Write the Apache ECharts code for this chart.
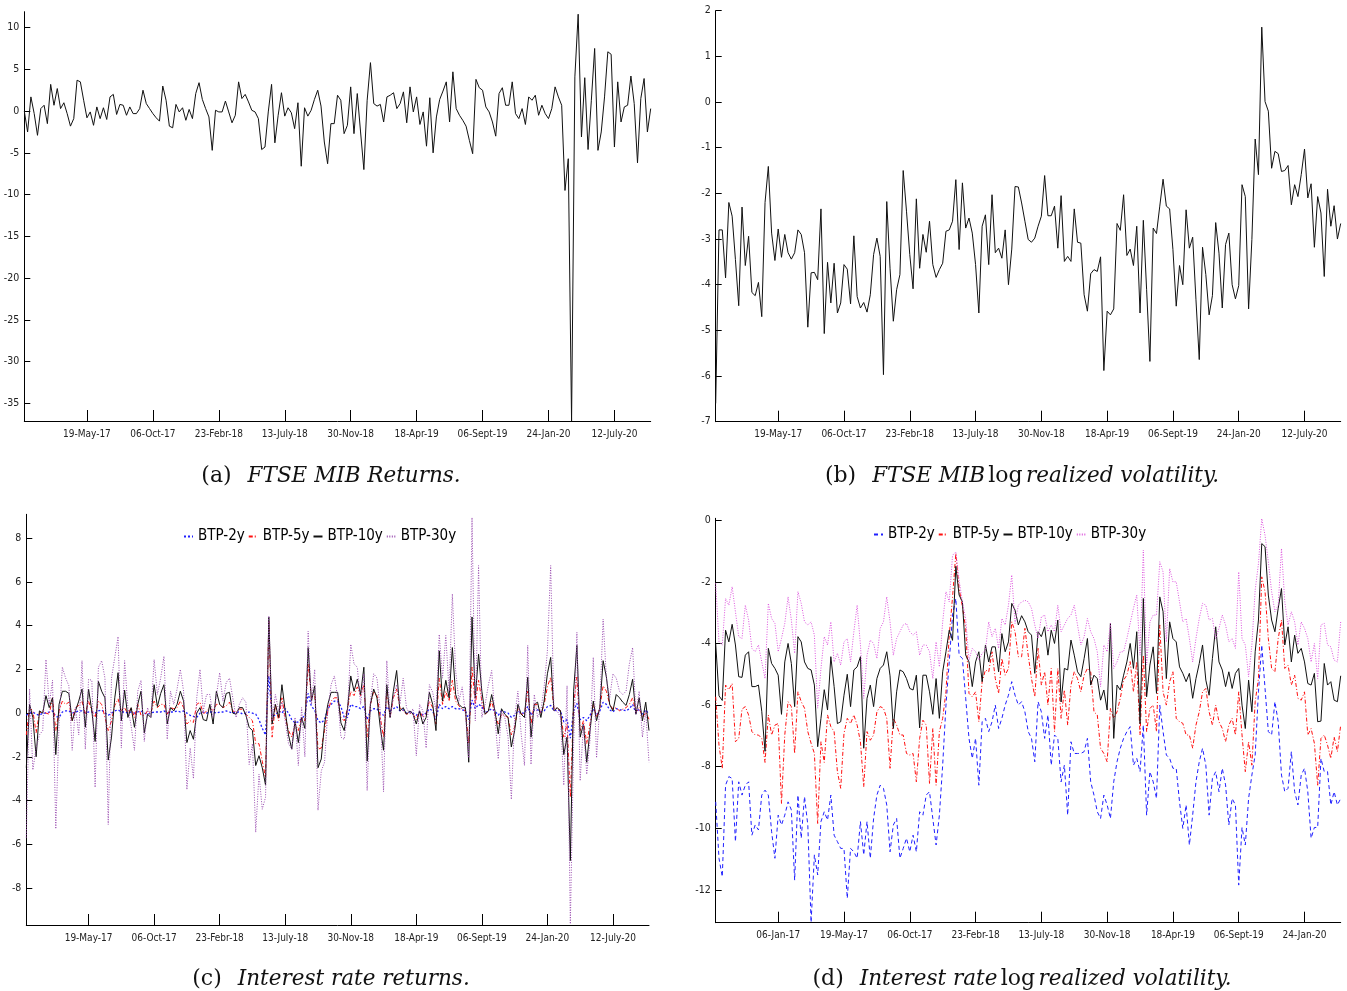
<!DOCTYPE html>
<html>
<head>
<meta charset="utf-8">
<script src="https://cdn.jsdelivr.net/npm/echarts@6/dist/echarts.min.js"></script>
<style>
html,body{margin:0;padding:0;background:#fff;}
#chart{width:1347px;height:991px;}
</style>
</head>
<body>
<div id="chart"></div>
<script>
// ---------- tick labels ----------
const tickIdx = [19, 39, 59, 79, 99, 119, 139, 159, 179];
const tickLabelsABC = ['19-May-17','06-Oct-17','23-Febr-18','13-July-18','30-Nov-18','18-Apr-19','06-Sept-19','24-Jan-20','12-July-20'];
const tickLabelsD = ['06-Jan-17','19-May-17','06-Oct-17','23-Febr-18','13-July-18','30-Nov-18','18-Apr-19','06-Sept-19','24-Jan-20'];
const yTicksA = [-35,-30,-25,-20,-15,-10,-5,0,5,10];
const yTicksB = [-7,-6,-5,-4,-3,-2,-1,0,1,2];
const yTicksC = [-8,-6,-4,-2,0,2,4,6,8];
const yTicksD = [-12,-10,-8,-6,-4,-2,0];

// ---------- (a) FTSE MIB returns ----------
const ftseRet = [
0.0,-2.5,1.7,-0.3,-2.9,0.3,0.7,-1.5,3.2,0.7,
2.7,0.3,1.0,-0.3,-1.8,-0.9,3.7,3.5,1.3,-0.8,
-0.1,-1.7,0.5,-0.9,0.4,-1.0,1.7,2.0,-0.4,0.8,
0.7,-0.5,0.5,-0.3,-0.3,0.3,2.5,0.9,0.3,-0.3,
-0.8,-1.2,3.0,1.3,-1.8,-2.0,0.8,-0.1,0.4,-1.1,
0.2,-0.9,2.1,3.4,1.4,0.3,-0.7,-4.7,0.1,-0.1,
-0.1,1.2,-0.1,-1.4,-0.5,3.5,1.5,2.0,1.1,0.1,
-0.1,-0.9,-4.6,-4.3,-0.1,3.2,-3.8,-0.5,2.2,-0.6,
0.4,-0.2,-2.1,1.0,-6.6,0.4,-0.6,0.1,1.4,2.5,
0.6,-3.7,-6.3,-1.5,-1.5,1.9,
1.3,-2.7,-1.7,2.9,-2.7,2.1,-2.5,-7.0,1.3,5.8,
0.9,0.6,0.8,-1.3,1.7,1.9,2.2,0.3,0.9,2.3,
-1.4,2.9,-0.1,1.7,-1.6,-0.1,-4.2,1.6,-5.0,-0.7,
1.4,2.4,3.5,-1.3,4.7,0.3,-0.5,-1.1,-1.8,-3.5,
-5.1,3.8,2.8,2.5,0.5,-0.1,-1.3,-3.0,2.1,2.8,
0.7,0.7,3.5,-0.3,-0.9,0.3,-1.6,1.7,1.3,1.9,
-0.5,0.7,-0.3,-0.9,0.3,2.9,1.7,0.7,-9.5,-5.7,
-37.1,4.1,11.6,-3.1,4.0,-4.6,1.3,7.5,-4.7,-2.5,
1.7,7.1,6.8,-4.3,3.5,-1.3,0.5,0.7,4.2,0.9,
-6.2,1.5,3.9,-2.5,0.3
];

// ---------- (b) FTSE MIB log realized volatility ----------
const ftseVol = [
-6.6,-2.8,-2.8,-3.85,-2.2,-2.5,-3.45,-4.46,-2.3,-3.58,
-2.94,-4.17,-4.24,-3.95,-4.7,-2.2,-1.41,-2.87,-3.47,-2.78,
-3.4,-2.9,-3.3,-3.44,-3.3,-2.8,-2.9,-3.3,-4.93,-3.74,
-3.73,-3.89,-2.34,-5.07,-3.51,-4.4,-3.53,-4.62,-4.4,-3.56,
-3.66,-4.42,-2.93,-4.26,-4.51,-4.39,-4.6,-4.22,-3.34,-2.98,
-3.38,-5.97,-2.18,-3.64,-4.8,-4.11,-3.78,-1.5,-2.39,-3.34,
-4.09,-2.12,-3.64,-2.9,-3.29,-2.61,-3.56,-3.84,-3.67,-3.53,
-2.83,-2.8,-2.61,-1.7,-3.23,-1.77,-2.76,-2.54,-2.87,-3.56,
-4.62,-2.72,-2.47,-3.56,-2.03,-3.3,-3.2,-3.42,-2.8,-4.0,
-3.22,-1.85,
-1.86,-2.21,-2.61,-3.01,-3.07,-2.98,-2.72,-2.5,-1.61,-2.49,
-2.49,-2.28,-3.2,-2.05,-3.49,-3.38,-3.49,-2.34,-3.07,-3.09,
-4.22,-4.58,-3.76,-3.67,-3.71,-3.39,-5.88,-4.58,-4.66,-4.53,
-2.66,-2.81,-2.03,-3.36,-3.22,-3.58,-2.72,-4.62,-2.59,-4.11,
-5.68,-2.76,-2.88,-2.28,-1.69,-2.28,-2.34,-3.23,-4.47,-3.58,
-4.0,-2.36,-3.2,-2.96,-4.33,-5.64,-3.18,-3.78,-4.66,-4.24,
-2.64,-3.31,-4.51,-3.12,-2.87,-4.0,-4.31,-4.02,-1.81,-2.07,
-4.53,-3.01,-0.81,-1.59,1.64,0.01,-0.2,-1.45,-1.08,-1.13,
-1.52,-1.5,-1.39,-2.25,-1.81,-2.07,-1.59,-1.03,-2.1,-1.79,
-3.18,-2.07,-2.43,-3.82,-1.91,-2.72,-2.27,-3.0,-2.66
];

// ---------- (c) interest rate returns ----------
const btp2Ret = [
-0.1,0.0,0.05,-0.05,-0.1,0.0,0.0,0.05,0.1,-0.15,
-0.2,0.05,0.1,0.1,0.0,0.05,0.1,0.1,0.0,0.05,
0.05,0.0,0.1,0.15,0.0,-0.1,0.0,0.1,0.15,0.05,
0.05,0.0,0.05,0.0,0.05,0.1,0.0,-0.05,0.0,0.05,
0.05,0.05,0.1,0.0,0.05,0.05,0.1,0.05,0.1,0.0,
-0.1,-0.15,-0.2,0.0,0.05,0.0,0.05,0.05,0.0,0.05,
0.05,0.1,0.05,0.0,0.05,0.05,-0.05,0.0,0.05,0.0,
-0.05,-0.3,-0.7,-1.0,1.7,-0.15,-0.1,0.1,0.0,0.2,
0.0,-0.3,-0.45,-0.4,-0.25,-0.1,0.9,0.3,0.15,-0.35,
-0.45,-0.3,0.2,0.4,0.55,
0.55,
0.3,-0.2,-0.2,0.4,0.3,0.3,0.2,0.3,-0.3,0.1,
0.2,0.2,0.0,-0.1,0.3,0.1,0.2,0.3,0.1,0.15,
0.0,0.05,0.0,-0.1,0.05,-0.1,0.0,0.2,0.1,-0.3,
0.4,0.2,0.3,0.2,0.3,0.2,0.2,0.15,0.1,-0.3,
0.6,0.2,0.4,0.3,0.0,0.1,0.2,0.1,-0.1,0.1,
0.05,0.0,-0.2,-0.1,0.1,0.0,0.0,0.3,-0.1,0.15,
0.15,0.05,0.1,0.3,0.35,0.1,0.15,0.1,-0.4,-0.3,
-1.15,0.1,0.45,-0.3,-0.2,-0.35,-0.1,0.2,-0.1,0.1,
0.5,0.4,0.15,0.05,0.2,0.15,0.15,0.1,0.2,0.4,
0.0,0.2,-0.05,0.15,-0.05
];
const btp5Ret = [
-1.0,0.25,0.1,-0.9,0.0,0.1,0.0,-0.05,0.7,-0.8,
0.1,0.55,0.4,0.5,-0.35,0.25,0.35,0.55,-0.05,0.55,
0.1,-0.2,0.55,0.4,-0.2,-0.8,-0.35,0.35,0.65,0.1,
0.25,-0.05,0.25,-0.2,0.4,-0.1,-0.1,0.1,0.0,0.55,
0.25,0.4,0.4,-0.05,0.25,0.2,0.25,0.55,0.25,-0.5,
-0.35,-0.43,0.4,0.5,-0.05,0.1,0.25,0.1,0.4,0.4,
0.25,0.33,0.5,0.1,0.03,0.18,0.18,-0.05,-0.2,-0.35,
-1.4,-1.4,-2.2,-2.95,4.2,-1.1,0.4,-0.35,0.7,-0.2,
-0.8,-1.1,-0.5,-0.8,-0.2,-0.35,2.25,0.7,0.87,-1.65,
-1.6,-0.8,0.1,0.55,0.7,
0.7,
-0.2,-0.35,0.2,1.0,0.8,1.2,0.8,1.3,-1.1,0.4,
1.0,0.8,-0.2,-1.1,1.0,-0.2,0.7,1.1,0.25,0.1,
-0.05,0.0,-0.05,-0.3,0.1,-0.2,-0.05,0.55,0.25,-0.5,
1.6,0.4,1.0,0.55,1.5,0.55,0.33,0.18,0.1,-1.4,
2.1,0.4,1.5,0.55,-0.05,0.1,0.55,-0.05,-0.5,-0.05,
-0.12,-0.2,-1.0,-0.65,0.25,-0.05,-0.05,1.0,-0.5,0.4,
0.4,-0.05,0.4,1.2,1.65,0.18,0.25,0.1,-1.1,-0.5,
-3.85,0.4,1.65,-0.8,-0.35,-1.4,-0.5,0.4,-0.2,0.25,
1.25,1.0,0.4,0.18,0.25,0.1,0.18,0.25,0.4,0.7,
0.03,0.25,-0.2,0.03,-0.28
];
const btp10Ret = [
-2.5,0.4,-0.2,-2.0,0.1,0.0,0.8,0.25,0.7,-1.9,
0.4,1.0,1.0,0.9,-0.35,0.1,0.55,1.1,-0.65,1.1,
0.1,-1.3,1.45,1.0,0.7,-2.15,-1.1,0.7,1.85,-0.35,
1.05,-0.2,0.25,-0.65,0.4,1.0,-0.9,-0.05,-0.2,1.3,
0.3,0.9,1.3,-0.5,0.25,0.1,0.4,1.0,0.55,-1.35,
-0.8,-1.2,0.0,0.25,-0.3,-0.35,0.4,-0.5,1.0,0.4,
0.25,0.9,0.95,0.0,-0.05,0.25,0.25,-0.1,-0.65,-0.8,
-2.4,-1.95,-2.5,-3.3,4.4,-0.5,0.4,-0.2,1.3,0.1,
-1.0,-1.65,-0.35,-1.35,-0.2,-0.7,3.0,0.55,1.25,-2.5,
-2.1,-0.5,0.4,0.95,0.95,
0.95,
-0.45,-0.8,0.2,1.7,1.0,1.55,0.85,2.1,-2.2,0.4,
1.1,0.7,-0.65,-1.7,1.3,-0.2,1.0,1.95,0.1,0.25,
-0.05,0.1,-0.05,-0.5,0.1,-0.5,-0.2,0.95,0.4,-0.8,
2.85,0.55,1.5,0.7,3.0,0.85,0.4,0.25,0.25,-2.25,
4.4,0.7,2.7,1.0,-0.05,0.1,0.85,0.1,-0.95,0.2,
-0.05,-0.2,-1.55,-0.8,0.4,-0.05,-0.2,1.65,-1.1,0.4,
0.5,-0.2,0.55,1.8,2.55,0.1,0.25,0.1,-1.9,-1.1,
-6.75,1.0,3.1,-1.1,-0.5,-2.25,-0.8,0.55,-0.35,0.25,
2.4,1.65,0.4,0.1,0.85,0.7,0.5,0.35,0.85,1.55,
-0.05,0.7,-0.35,0.5,-0.8
];
const btp30Ret = [
-5.7,1.1,-2.6,-1.6,-1.0,-0.8,2.45,0.4,1.5,-5.3,
-0.45,2.1,1.6,1.25,-1.7,0.25,-1.0,2.4,-1.65,1.55,
1.5,-3.4,2.1,2.4,1.6,-5.1,1.6,2.55,3.5,-1.6,
2.4,0.25,-0.6,-1.7,1.0,1.5,-1.3,0.25,-0.2,2.45,
0.85,1.6,2.6,-1.2,1.0,0.4,1.1,2.0,1.0,-3.5,
-1.6,-3.0,0.7,2.0,0.1,0.85,0.85,-0.2,0.8,1.85,
0.55,1.4,1.6,0.7,-0.2,0.4,0.7,0.5,-2.35,-1.4,
-5.45,-2.8,-4.4,-3.85,4.45,-0.35,0.85,0.1,0.5,-0.35,
-1.4,-1.65,-0.2,-2.4,0.25,-2.0,3.75,0.4,2.0,-4.45,
-2.65,-2.25,0.1,1.3,1.7,
0.7,-1.1,-1.2,0.0,3.15,2.25,2.1,0.4,1.8,-3.55,
0.55,1.8,1.6,0.1,-3.6,2.4,-0.2,0.7,1.3,0.4,
1.6,0.25,-0.05,0.2,-1.95,0.4,0.1,-1.6,1.3,0.95,
0.1,3.6,1.6,3.55,1.0,5.45,1.95,0.55,1.2,-0.05,
-2.05,8.95,-0.35,6.75,-0.2,0.4,1.3,1.95,-0.2,-2.1,
0.1,-0.2,-1.1,-3.95,-0.2,1.0,-0.95,-2.4,3.1,-2.35,
0.85,-0.2,0.1,1.2,2.85,6.75,0.1,0.1,-0.2,-3.3,
1.25,-9.65,-1.4,3.7,-3.1,-0.5,-2.8,-1.25,2.55,-2.05,
0.4,4.3,1.6,0.7,1.8,1.6,1.0,0.85,1.0,2.25,
3.0,-0.05,1.0,-1.1,0.1,-2.25
];

// ---------- (d) interest rate log realized volatility ----------
const btp2Vol = [
-9.14,-10.97,-11.57,-8.6,-8.32,-8.38,-10.43,-8.49,-8.92,-8.6,
-8.49,-10.22,-9.89,-10.05,-8.92,-8.76,-8.92,-10.11,-10.97,-9.57,
-9.89,-9.57,-9.14,-9.4,-11.68,-8.92,-10.32,-8.97,-9.89,-13.05,
-10.86,-11.51,-9.78,-9.46,-9.73,-8.92,-10.22,-10.43,-10.65,-10.65,
-12.27,-10.65,-10.76,-10.97,-9.78,-10.86,-9.78,-10.97,-9.68,-8.92,
-8.6,-8.7,-9.24,-10.76,-9.89,-9.68,-10.97,-10.65,-10.32,-10.76,
-10.22,-10.76,-9.46,-9.57,-8.92,-8.81,-9.68,-10.54,-9.57,-7.95,
-6.0,-4.59,-3.08,-2.54,-4.38,-4.49,-5.78,-7.08,-7.73,-7.08,
-8.6,-6.54,-6.43,-6.86,-6.54,-6.0,-6.76,-6.43,-6.0,-5.68,
-5.24,-5.68,-6.0,
-5.89,-6.22,-6.86,-7.08,-7.84,-5.89,-6.22,-7.08,-6.32,-7.95,
-6.97,-7.08,-8.49,-7.95,-9.57,-7.19,-7.57,-7.57,-7.57,-7.51,
-7.08,-8.49,-8.92,-9.46,-9.68,-8.92,-9.24,-9.68,-8.49,-7.84,
-7.4,-7.08,-6.86,-6.7,-7.95,-7.73,-8.16,-6.65,-9.57,-8.16,
-8.49,-9.03,-6.0,-6.86,-7.62,-7.73,-8.05,-8.05,-9.14,-10.0,
-9.24,-10.54,-9.57,-8.49,-7.84,-7.4,-7.95,-9.57,-8.38,-8.16,
-8.81,-8.05,-8.59,-9.89,-9.03,-9.24,-11.84,-9.97,-10.54,-9.03,
-8.27,-7.62,-5.57,-4.05,-5.46,-6.86,-6.97,-5.89,-6.54,-8.27,
-8.81,-8.7,-7.51,-8.81,-9.24,-8.27,-8.05,-8.81,-10.32,-9.97,
-9.97,-7.73,-8.16,-8.16,-9.24,-8.81,-9.24,-9.03
];
const btp5Vol = [
-5.73,-7.3,-8.05,-5.35,-5.5,-5.3,-7.19,-7.08,-6.13,-6.05,
-6.32,-6.86,-6.97,-6.97,-7.08,-7.86,-6.32,-6.97,-6.65,-6.6,
-9.19,-6.97,-5.89,-6.05,-7.57,-5.57,-5.89,-6.1,-6.86,-7.24,
-7.57,-9.84,-7.19,-7.86,-6.32,-6.7,-6.86,-8.16,-8.7,-6.92,
-6.43,-6.6,-6.32,-6.65,-7.19,-8.65,-6.86,-7.14,-6.97,-6.22,
-6.05,-6.1,-6.43,-8.05,-6.43,-6.65,-6.97,-6.97,-7.57,-7.62,
-7.57,-8.49,-7.08,-6.49,-6.65,-8.54,-6.76,-8.6,-6.86,-6.43,
-5.57,-3.73,-2.5,-1.08,-2.22,-2.81,-3.51,-5.62,-5.73,-5.57,
-6.54,-5.24,-4.86,-4.92,-4.27,-5.14,-5.62,-4.49,-5.03,-4.81,
-3.3,-3.62,-4.43,
-4.43,-3.51,-4.38,-5.14,-5.73,-4.16,-5.35,-4.92,-6.0,-4.81,
-6.86,-4.81,-6.43,-5.51,-6.65,-5.35,-4.92,-5.14,-5.57,-5.03,
-4.81,-4.92,-6.22,-6.32,-7.4,-7.57,-7.84,-6.11,-6.43,-6.22,
-5.78,-5.19,-5.03,-4.59,-5.57,-4.59,-6.97,-4.38,-6.86,-6.11,
-6.0,-6.86,-3.4,-5.57,-6.0,-5.24,-4.92,-6.43,-6.54,-6.59,
-6.97,-6.97,-7.4,-6.65,-6.22,-5.57,-5.46,-6.22,-6.65,-6.0,
-6.54,-6.76,-7.19,-6.65,-6.43,-6.97,-5.57,-6.97,-8.16,-7.19,
-7.95,-5.89,-5.14,-1.84,-2.32,-3.84,-4.81,-4.92,-3.84,-3.24,
-4.81,-4.7,-5.35,-5.03,-5.78,-5.84,-5.57,-6.97,-6.76,-7.24,
-8.6,-7.08,-6.97,-7.3,-7.73,-7.03,-7.51,-6.65
];
const btp10Vol = [
-4.0,-5.7,-5.85,-3.57,-3.95,-3.38,-4.05,-5.08,-5.1,-4.38,
-4.27,-5.4,-5.4,-5.35,-6.2,-7.5,-4.16,-4.65,-4.81,-5.03,
-6.3,-4.6,-4.0,-4.65,-6.05,-3.78,-3.95,-4.6,-4.81,-4.86,
-5.35,-7.35,-6.43,-5.5,-6.16,-4.43,-5.4,-6.6,-6.54,-5.68,
-5.0,-6.05,-4.86,-4.76,-4.43,-7.4,-5.78,-5.35,-6.05,-5.14,
-4.81,-4.7,-4.27,-5.05,-6.76,-5.57,-4.86,-4.92,-5.14,-5.46,
-5.51,-5.03,-6.74,-5.03,-5.03,-5.57,-6.3,-5.14,-6.43,-4.92,
-4.27,-3.57,-3.9,-1.5,-2.43,-2.65,-4.38,-4.6,-5.4,-4.6,
-4.27,-5.24,-4.05,-4.6,-4.11,-4.11,-4.92,-3.68,-4.27,-3.95,
-2.7,-2.92,-3.4,
-3.1,
-3.3,-3.62,-3.73,-4.97,-3.62,-3.78,-3.46,-4.38,-3.57,-4.0,
-3.24,-5.9,-4.81,-4.86,-3.89,-4.38,-4.92,-5.08,-4.49,-3.84,
-5.35,-5.03,-5.14,-5.84,-5.51,-6.16,-3.35,-7.08,-5.35,-5.51,
-5.03,-4.6,-4.0,-4.81,-3.62,-6.6,-2.54,-5.73,-4.7,-4.11,
-5.62,-2.49,-2.97,-5.14,-3.3,-3.84,-3.95,-4.76,-4.97,-5.24,
-4.97,-5.78,-5.14,-4.65,-4.05,-5.19,-5.68,-4.49,-3.46,-4.6,
-4.86,-5.4,-4.92,-5.46,-4.97,-4.81,-6.0,-6.76,-5.19,-6.22,
-4.27,-3.24,-0.76,-0.86,-2.43,-3.24,-3.62,-2.86,-2.22,-4.05,
-3.46,-4.6,-3.73,-4.32,-4.16,-4.6,-5.3,-5.35,-4.97,-6.54,
-6.52,-4.65,-5.35,-5.24,-5.84,-5.89,-5.05
];
const btp30Vol = [
-2.05,-3.95,-4.05,-2.54,-2.76,-2.16,-2.97,-3.78,-3.84,-2.76,
-3.24,-4.16,-4.27,-4.05,-4.6,-5.14,-2.7,-3.19,-3.35,-4.27,
-3.84,-3.35,-2.49,-3.24,-4.32,-2.32,-2.7,-3.3,-3.4,-3.3,
-3.73,-6.1,-4.81,-3.78,-4.05,-3.3,-4.6,-4.32,-4.7,-3.95,
-3.84,-4.6,-3.62,-2.76,-4.05,-5.78,-4.38,-3.89,-4.0,-4.49,
-3.51,-3.3,-2.49,-3.3,-4.38,-3.84,-3.62,-3.4,-3.35,-3.62,
-3.73,-3.62,-4.38,-4.05,-4.05,-4.27,-5.14,-3.95,-4.76,-3.3,
-2.32,-2.65,-1.14,-1.03,-1.95,-2.65,-3.19,-4.54,-4.16,-4.27,
-4.54,-4.32,-4.22,-3.3,-3.78,-3.51,-4.16,-3.19,-3.4,-2.76,
-1.78,-3.35,-2.76,
-2.65,-2.6,-2.65,-2.86,-3.4,-3.84,-3.14,-3.08,-3.62,-3.4,
-3.62,-2.76,-3.62,-3.4,-3.19,-3.08,-2.76,-3.4,-4.05,-3.78,
-3.19,-3.62,-3.84,-4.27,-5.4,-4.05,-4.27,-3.35,-4.81,-4.6,
-4.27,-4.27,-3.84,-3.35,-2.86,-2.43,-4.38,-0.97,-4.7,-3.3,
-3.08,-3.08,-1.35,-1.68,-3.95,-1.57,-2.0,-2.0,-2.65,-3.3,
-3.19,-3.84,-4.6,-3.84,-3.19,-2.7,-2.76,-3.24,-3.19,-3.84,
-3.51,-3.08,-3.4,-3.95,-3.84,-4.16,-1.68,-3.84,-4.05,-5.08,
-4.05,-2.27,-1.41,0.05,-0.49,-1.35,-2.32,-2.97,-2.76,-0.92,
-2.65,-3.4,-2.97,-3.3,-4.05,-3.3,-3.51,-3.84,-4.6,-4.0,
-5.14,-3.4,-3.35,-4.05,-4.11,-4.54,-4.6,-3.3
];

// ---------- build chart ----------
const FONT = "'Liberation Sans Narrow','DejaVu Sans Condensed','Liberation Sans',Arial,sans-serif";
const N = ftseRet.length;
const cats = Array.from({length: N}, (_, i) => String(i));
const isTick = (i) => tickIdx.indexOf(i) >= 0;

function xAxis(gi, labels) {
  return {
    type: 'category', gridIndex: gi, data: cats, boundaryGap: false,
    axisLine: {show: true, onZero: false, lineStyle: {color: '#000', width: 1}},
    axisTick: {show: true, inside: true, length: 11, interval: (i) => isTick(i), lineStyle: {color: '#000', width: 1}},
    axisLabel: {interval: (i) => isTick(i), margin: 8, fontSize: 10, fontFamily: FONT, color: '#222',
      formatter: (v) => { const k = tickIdx.indexOf(Number(v)); return k >= 0 ? labels[k] : ''; }},
    splitLine: {show: false}
  };
}
function yAxis(gi, min, max, ticks) {
  return {
    type: 'value', gridIndex: gi, min: min, max: max,
    axisLine: {show: true, onZero: false, lineStyle: {color: '#000', width: 1}},
    axisTick: {show: true, inside: true, length: 6, customValues: ticks, lineStyle: {color: '#000', width: 1}},
    axisLabel: {customValues: ticks, margin: 5, fontSize: 10.5, fontFamily: FONT, color: '#222'},
    splitLine: {show: false}
  };
}
function line(name, gi, data, color, type, width, z) {
  return {
    name: name, type: 'line', xAxisIndex: gi, yAxisIndex: gi, data: data,
    symbol: 'none', showSymbol: false, silent: true, animation: false, z: z || 2,
    lineStyle: {color: color, width: width, type: type}, itemStyle: {color: color}
  };
}

const chart = echarts.init(document.getElementById('chart'), null, {renderer: 'canvas'});
const SERIF = "'DejaVu Serif','Liberation Serif',serif";
const capRich = {
  u: {fontFamily: SERIF, fontSize: 22, color: '#111'},
  i: {fontFamily: SERIF, fontSize: 21.5, fontStyle: 'italic', color: '#111'},
  s: {fontFamily: SERIF, fontSize: 22, width: 16}
};
function caption(x, y, text) {
  return {type: 'text', x: x, y: y, silent: true,
    style: {text: text, rich: capRich, align: 'center', verticalAlign: 'middle', fill: '#111'}};
}

const graphics = [
  caption(331, 476, '{u|(a)}{s| }{i|FTSE MIB Returns.}'),
  caption(1022, 476, '{u|(b)}{s| }{i|FTSE MIB} {u|log} {i|realized volatility.}'),
  caption(331, 979, '{u|(c)}{s| }{i|Interest rate returns.}'),
  caption(1022, 979, '{u|(d)}{s| }{i|Interest rate} {u|log} {i|realized volatility.}')
];
const all = {ftseRet, ftseVol, btp2Ret, btp5Ret, btp10Ret, btp30Ret, btp2Vol, btp5Vol, btp10Vol, btp30Vol};
const bad = Object.keys(all).filter(k => all[k].length !== 191).map(k => k + ':' + all[k].length);
if (bad.length) graphics.push({type: 'text', x: 400, y: 300, style: {text: bad.join('  '), fill: 'red', fontSize: 20}});

const legendText = {fontSize: 15, fontFamily: FONT, color: '#000'};
const legendCommon = {padding: 0, itemGap: 3, itemWidth: 9, itemHeight: 1, selectedMode: false,
  itemStyle: {opacity: 0}, textStyle: legendText, formatter: (n) => n.slice(2)};
chart.setOption({
  animation: false,
  backgroundColor: '#fff',
  grid: [
    {left: 24.3, top: 11.7, width: 626.4, height: 409.3},
    {left: 715.7, top: 10.7, width: 625, height: 411},
    {left: 26.3, top: 514.3, width: 622.7, height: 410.7},
    {left: 715.7, top: 518.3, width: 625, height: 404.4}
  ],
  xAxis: [xAxis(0, tickLabelsABC), xAxis(1, tickLabelsABC), xAxis(2, tickLabelsABC), xAxis(3, tickLabelsD)],
  yAxis: [yAxis(0, -37.1, 11.9, yTicksA), yAxis(1, -7, 2, yTicksB), yAxis(2, -9.7, 9.1, yTicksC), yAxis(3, -13.06, 0.06, yTicksD)],
  legend: [
    Object.assign({left: 183, top: 529, data: ['c:BTP-2y', 'c:BTP-5y', 'c:BTP-10y', 'c:BTP-30y']}, legendCommon),
    Object.assign({left: 873, top: 527, data: ['d:BTP-2y', 'd:BTP-5y', 'd:BTP-10y', 'd:BTP-30y']}, legendCommon)
  ],
  series: [
    line('a', 0, ftseRet, '#111', 'solid', 1),
    line('b', 1, ftseVol, '#111', 'solid', 1),
    line('c:BTP-2y', 2, btp2Ret, '#2020ff', [2, 2], 1.3, 3),
    line('c:BTP-5y', 2, btp5Ret, '#ff1010', [4, 2, 1, 2], 1, 4),
    line('c:BTP-10y', 2, btp10Ret, '#111', 'solid', 1, 5),
    line('c:BTP-30y', 2, btp30Ret, '#9a4db0', [1, 1.5], 1, 6),
    line('d:BTP-2y', 3, btp2Vol, '#2020ff', [4, 3], 1, 3),
    line('d:BTP-5y', 3, btp5Vol, '#ff1010', [4, 2, 1, 2], 1, 4),
    line('d:BTP-10y', 3, btp10Vol, '#111', 'solid', 1, 5),
    line('d:BTP-30y', 3, btp30Vol, '#dd55dd', [1, 1.5], 1, 6)
  ],
  graphic: graphics
});
</script>
</body>
</html>
